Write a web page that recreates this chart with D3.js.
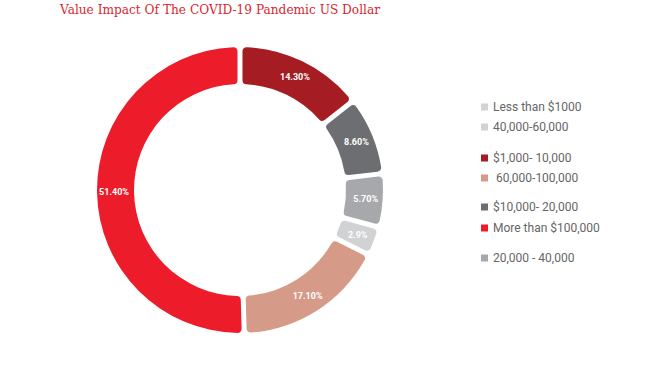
<!DOCTYPE html>
<html><head><meta charset="utf-8">
<script src="https://cdn.jsdelivr.net/npm/d3@7/dist/d3.min.js"></script>
<style>body{margin:0;background:#fff;}svg{display:block;}</style>
</head><body>
<svg id="chart" width="670" height="378"></svg>
<script>
// Ring data (clockwise from top)
const categories = ["$1,000- 10,000", "$10,000- 20,000", "20,000 - 40,000", "40,000-60,000", "60,000-100,000", "More than $100,000"];
const values = [14.3, 8.6, 5.7, 2.9, 17.1, 51.4];
const valueLabels = ["14.30%", "8.60%", "5.70%", "2.9%", "17.10%", "51.40%"];
const colors = ["#a51d23", "#6d6e71", "#a7a8ab", "#d1d2d4", "#d59a88", "#ed1c2b"];
// Legend as displayed
const legendLabels = ["Less than $1000", "40,000-60,000", "$1,000- 10,000", " 60,000-100,000", "$10,000- 20,000", "More than $100,000", "20,000 - 40,000"];
const legendColors = ["#d1d2d4", "#d1d2d4", "#a51d23", "#d59a88", "#6d6e71", "#ed1c2b", "#a7a8ab"];
const title = "Value Impact Of The COVID-19 Pandemic US Dollar";

const svg = d3.select("#chart");
const cx = 240, cy = 190, rOuter = 143, rInner = 106;

// Title
svg.append("text")
  .attr("x", 60).attr("y", 14)
  .attr("font-family", "'DejaVu Serif', 'Liberation Serif', serif")
  .attr("font-size", 13.5)
  .attr("fill", "#d9262f")
  .attr("textLength", 320)
  .attr("lengthAdjust", "spacingAndGlyphs")
  .text(title);

const data = categories.map((c, i) => ({cat: c, value: values[i], label: valueLabels[i], color: colors[i]}));
const pie = d3.pie().value(d => d.value).sort(null).padAngle(0.028);
const arc = d3.arc().innerRadius(rInner).outerRadius(rOuter).cornerRadius(4);
const labelArc = d3.arc().innerRadius(126).outerRadius(126);

const g = svg.append("g").attr("transform", `translate(${cx},${cy})`);
const arcs = pie(data);
g.selectAll("path").data(arcs).join("path")
  .attr("d", arc)
  .attr("fill", d => d.data.color);

g.selectAll("text.lbl").data(arcs).join("text")
  .attr("class", "lbl")
  .attr("transform", d => `translate(${labelArc.centroid(d)})`)
  .attr("text-anchor", "middle")
  .attr("dominant-baseline", "central")
  .attr("font-family", "Roboto, 'Open Sans', sans-serif")
  .attr("font-weight", "bold")
  .attr("font-size", 9)
  .attr("fill", "#fff")
  .text(d => d.data.label);

// Legend
const legendY = [107, 127, 158, 178, 207, 228, 258];
const lg = svg.append("g");
legendLabels.forEach((lab, i) => {
  lg.append("rect")
    .attr("x", 481).attr("y", legendY[i] - 3.5)
    .attr("width", 7).attr("height", 7)
    .attr("fill", legendColors[i]);
  lg.append("text")
    .attr("x", 493).attr("y", legendY[i])
    .attr("dominant-baseline", "central")
    .attr("font-family", "Roboto, 'Open Sans', sans-serif")
    .attr("font-size", 12)
    .attr("fill", "#666")
    .attr("xml:space", "preserve")
    .style("white-space", "pre")
    .text(lab);
});
</script>
</body></html>
